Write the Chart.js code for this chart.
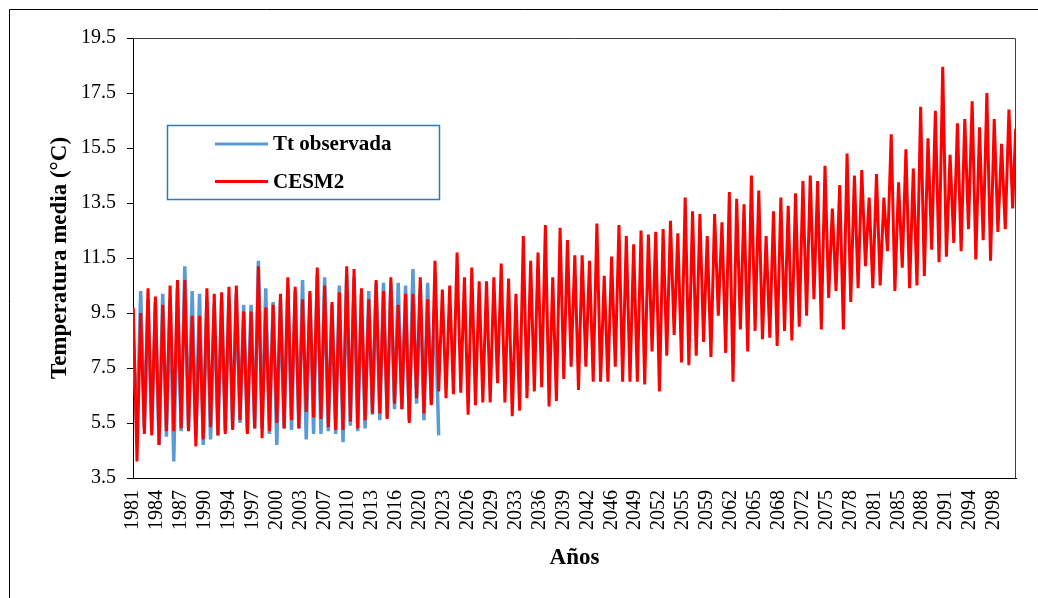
<!DOCTYPE html>
<html lang="es">
<head>
<meta charset="UTF-8">
<title>Temperatura media: Tt observada y CESM2</title>
<script src="https://cdn.jsdelivr.net/npm/chart.js@4.4.1/dist/chart.umd.min.js"></script>
<style>
  html, body { margin: 0; padding: 0; background: #fff; }
  #contenedor { width: 1038px; height: 598px; }
</style>
</head>
<body>
<div id="contenedor"><canvas id="grafico" width="1038" height="598"></canvas></div>
<script>
// Valores: maximo de enero y minimo de julio de cada año
const anioInicio = 1981;
const mesMax = 1;
const mesMin = 7;

const cesmMax = [
  9.7, 9.5, 10.4, 10.1, 9.8, 10.5, 10.7, 10.7, 9.4, 9.4,
  10.4, 10.2, 10.25, 10.45, 10.5, 9.55, 9.55, 11.2, 9.7, 9.8,
  10.2, 10.8, 10.45, 10.0, 10.3, 11.15, 10.5, 9.9, 10.25, 11.2,
  11.1, 10.4, 10.0, 10.7, 10.3, 10.8, 9.8, 10.2, 10.2, 10.8,
  10.0, 11.4, 10.35, 10.5, 11.7, 10.8, 11.15, 10.65, 10.65, 10.8,
  11.3, 10.75, 10.2, 12.3, 11.4, 11.7, 12.7, 10.8, 12.6, 12.15,
  11.6, 11.6, 11.4, 12.75, 10.85, 11.55, 12.7, 12.3, 12.0, 12.5,
  12.35, 12.45, 12.55, 12.85, 12.4, 13.7, 13.2, 13.1, 12.3, 13.1,
  12.8, 13.9, 13.65, 13.45, 14.5, 13.95, 12.3, 13.2, 13.7, 13.4,
  13.85, 14.3, 14.5, 14.3, 14.85, 13.3, 14.15, 15.3, 14.5, 14.7,
  13.7, 14.55, 13.7, 16.0, 14.25, 15.45, 14.75, 17.0, 15.85, 16.85,
  18.45, 15.25, 16.4, 16.55, 17.2, 16.25, 17.5, 16.55, 15.65, 16.9
];
const cesmMin = [
  4.1, 5.1, 5.05, 4.7, 5.2, 5.2, 5.3, 5.2, 4.65, 4.9,
  5.35, 5.05, 5.1, 5.25, 5.6, 5.1, 5.3, 4.95, 5.2, 5.5,
  5.3, 5.6, 5.3, 5.9, 5.7, 5.65, 5.35, 5.25, 5.25, 5.55,
  5.3, 5.6, 5.85, 5.85, 5.65, 6.2, 6.0, 5.5, 6.4, 5.85,
  6.15, 6.65, 6.4, 6.55, 6.6, 5.8, 6.15, 6.25, 6.25, 6.95,
  6.25, 5.75, 5.95, 6.4, 6.65, 6.8, 6.1, 6.3, 7.1, 7.55,
  6.7, 7.55, 7.0, 7.0, 7.0, 7.55, 7.0, 7.0, 7.0, 6.9,
  8.1, 6.65, 7.95, 8.7, 7.7, 7.6, 7.95, 8.45, 7.9, 9.4,
  8.05, 7.0, 8.9, 8.1, 8.85, 8.55, 8.6, 8.3, 8.85, 8.5,
  9.0, 9.4, 10.0, 8.9, 10.05, 10.3, 8.9, 9.9, 10.4, 11.2,
  10.4, 10.5, 11.75, 10.3, 11.15, 10.4, 10.5, 10.85, 11.8, 11.35,
  11.55, 12.05, 11.75, 12.55, 11.45, 12.15, 11.4, 12.45, 12.55, 13.3
];
const cesmDic2100 = 16.2;

const obsMax = [
  8.5, 10.3, 10.0, 9.9, 10.2, 10.0, 10.4, 11.2, 10.3, 10.2,
  10.0, 9.8, 10.0, 10.1, 10.2, 9.8, 9.8, 11.4, 10.4, 9.9,
  10.0, 10.5, 10.3, 10.7, 10.2, 10.9, 10.8, 9.8, 10.5, 10.9,
  10.8, 10.2, 10.3, 10.6, 10.6, 10.6, 10.6, 10.5, 11.1, 10.4,
  10.6, 10.0
];
const obsMin = [
  5.2, 5.3, 5.2, 4.7, 5.0, 4.1, 5.2, 5.3, 5.0, 4.7,
  4.9, 5.05, 5.2, 5.3, 5.5, 5.2, 5.3, 5.3, 5.1, 4.7,
  5.3, 5.25, 5.3, 4.9, 5.1, 5.1, 5.2, 5.1, 4.8, 5.4,
  5.2, 5.3, 5.8, 5.6, 5.7, 6.0, 6.0, 5.6, 6.2, 5.6,
  6.2, 5.05
];

const etiquetasX = [
  '1981', '1984', '1987', '1990', '1994', '1997', '2000', '2003', '2007', '2010',
  '2013', '2016', '2020', '2023', '2026', '2029', '2033', '2036', '2039', '2042',
  '2046', '2049', '2052', '2055', '2059', '2062', '2065', '2068', '2072', '2075',
  '2078', '2081', '2085', '2088', '2091', '2094', '2098'
];
const pasoMeses = 39;
const valoresY = [3.5, 5.5, 7.5, 9.5, 11.5, 13.5, 15.5, 17.5, 19.5];

const anios = cesmMax.map((_, i) => anioInicio + i);

// mes m del año a -> posicion en el eje (centro del mes)
function posicion(a, m) {
  return a + (m - 0.5) / 12;
}

function serie(maximos, minimos) {
  const puntos = [];
  maximos.forEach((v, i) => {
    puntos.push({ x: posicion(anios[i], mesMax), y: v });
    puntos.push({ x: posicion(anios[i], mesMin), y: minimos[i] });
  });
  return puntos;
}

const datosCesm = serie(cesmMax, cesmMin);
datosCesm.push({ x: posicion(2100, 12), y: cesmDic2100 });
const datosObs = serie(obsMax, obsMin);

const fuente = "'Liberation Serif', 'Times New Roman', serif";

// marco exterior, borde del area y leyenda
const extras = {
  id: 'extras',
  beforeDraw(chart) {
    const ctx = chart.ctx;
    ctx.save();
    ctx.fillStyle = '#fff';
    ctx.fillRect(0, 0, chart.width, chart.height);
    ctx.strokeStyle = '#000';
    ctx.lineWidth = 1;
    ctx.beginPath();
    ctx.moveTo(9.5, chart.height);
    ctx.lineTo(9.5, 9.5);
    ctx.lineTo(chart.width, 9.5);
    ctx.stroke();
    ctx.restore();
  },
  afterDraw(chart) {
    const ctx = chart.ctx;
    const a = chart.chartArea;
    ctx.save();
    ctx.strokeStyle = '#404040';
    ctx.lineWidth = 1;
    ctx.beginPath();
    ctx.moveTo(a.left, a.top + 0.5);
    ctx.lineTo(a.right - 0.5, a.top + 0.5);
    ctx.lineTo(a.right - 0.5, a.bottom);
    ctx.stroke();

    // leyenda
    const lx = 167.5, ly = 125.5, lw = 272, lh = 74;
    ctx.fillStyle = '#fff';
    ctx.fillRect(lx, ly, lw, lh);
    ctx.strokeStyle = '#2b7bc4';
    ctx.lineWidth = 1.5;
    ctx.strokeRect(lx, ly, lw, lh);
    const orden = [1, 0];
    ctx.font = 'bold 21px ' + fuente;
    ctx.textBaseline = 'middle';
    ctx.textAlign = 'left';
    orden.forEach((d, i) => {
      const ds = chart.data.datasets[d];
      const y = 144 + i * 37.5;
      ctx.strokeStyle = ds.borderColor;
      ctx.lineWidth = 3;
      ctx.beginPath();
      ctx.moveTo(215, y);
      ctx.lineTo(268, y);
      ctx.stroke();
      ctx.fillStyle = '#000';
      ctx.fillText(ds.label, 273, y + 1);
    });
    ctx.restore();
  }
};

new Chart(document.getElementById('grafico'), {
  type: 'line',
  data: {
    datasets: [
      {
        label: 'CESM2',
        data: datosCesm,
        borderColor: '#ff0000',
        borderWidth: 3,
        pointRadius: 0,
        tension: 0,
        order: 1
      },
      {
        label: 'Tt observada',
        data: datosObs,
        borderColor: '#5b9bd5',
        borderWidth: 3.5,
        pointRadius: 0,
        tension: 0,
        order: 2
      }
    ]
  },
  options: {
    responsive: false,
    animation: false,
    events: [],
    layout: { padding: { top: 38, right: 22, left: 0, bottom: 0 } },
    plugins: {
      legend: { display: false },
      tooltip: { enabled: false }
    },
    scales: {
      x: {
        type: 'linear',
        min: anioInicio,
        max: anioInicio + cesmMax.length,
        afterBuildTicks(scale) {
          scale.ticks = etiquetasX.map((_, i) => ({ value: anioInicio + i * pasoMeses / 12 }));
        },
        afterFit(scale) { scale.height = 120; },
        grid: { drawOnChartArea: false, drawTicks: false },
        border: { display: true, color: '#000', width: 1 },
        ticks: {
          autoSkip: false,
          minRotation: 90,
          maxRotation: 90,
          padding: 12,
          color: '#000',
          font: { family: fuente, size: 20 },
          callback: (v, i) => etiquetasX[i]
        },
        title: {
          display: true,
          text: 'Años',
          color: '#000',
          font: { family: fuente, size: 23, weight: 'bold' },
          padding: { top: 0, bottom: 26 }
        }
      },
      y: {
        min: 3.5,
        max: 19.5,
        afterBuildTicks(scale) {
          scale.ticks = valoresY.map(v => ({ value: v }));
        },
        afterFit(scale) { scale.width = 133; },
        grid: { drawOnChartArea: false, drawTicks: true, tickLength: 6, color: '#000' },
        border: { display: true, color: '#000', width: 1 },
        ticks: {
          padding: 11,
          color: '#000',
          font: { family: fuente, size: 20 },
          callback: v => v.toFixed(1)
        },
        title: {
          display: true,
          text: 'Temperatura media (°C)',
          color: '#000',
          font: { family: fuente, size: 23, weight: 'bold' },
          padding: { top: 46, bottom: 0 }
        }
      }
    }
  },
  plugins: [extras]
});
</script>
</body>
</html>
